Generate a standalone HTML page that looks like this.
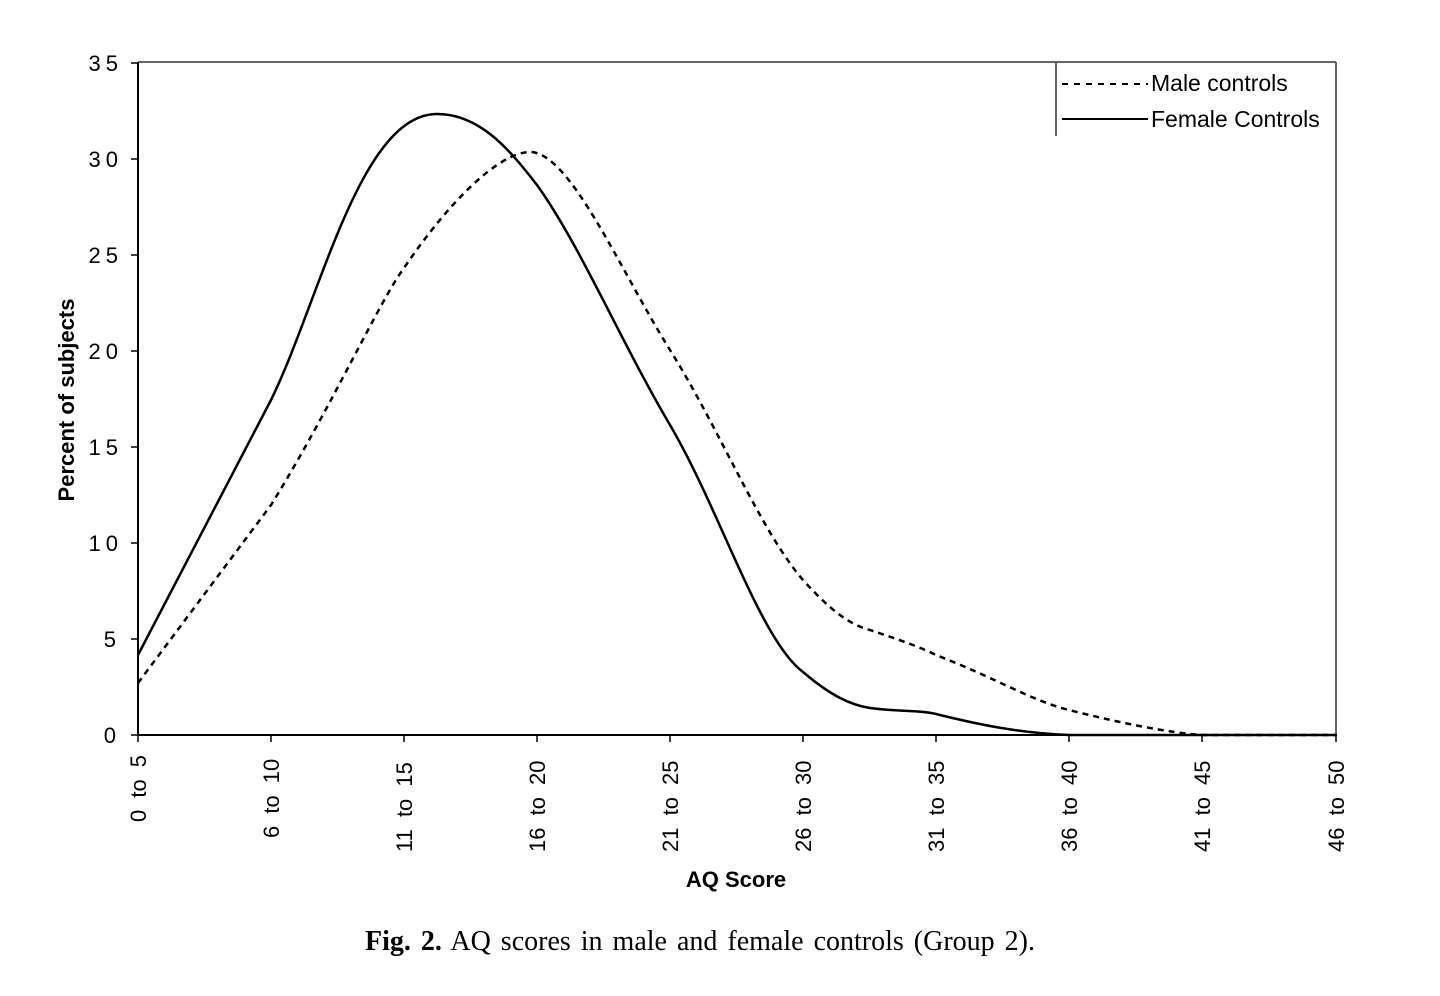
<!DOCTYPE html>
<html><head><style>
body{margin:0;background:#fff;}
svg{display:block}
</style></head><body>
<svg width="1440" height="996" viewBox="0 0 1440 996" xmlns="http://www.w3.org/2000/svg">
<rect width="1440" height="996" fill="#fff"/>
<line x1="138" y1="62" x2="1336" y2="62" stroke="#666" stroke-width="2"/>
<line x1="1336" y1="62" x2="1336" y2="735" stroke="#666" stroke-width="2"/>
<line x1="138" y1="62" x2="138" y2="736" stroke="#000" stroke-width="2"/>
<line x1="137" y1="735" x2="1337" y2="735" stroke="#000" stroke-width="2"/>
<g stroke="#000" stroke-width="1.5">
<line x1="131" y1="63" x2="138" y2="63"/><line x1="131" y1="159" x2="138" y2="159"/>
<line x1="131" y1="255" x2="138" y2="255"/><line x1="131" y1="351" x2="138" y2="351"/>
<line x1="131" y1="447" x2="138" y2="447"/><line x1="131" y1="543" x2="138" y2="543"/>
<line x1="131" y1="639" x2="138" y2="639"/><line x1="131" y1="735" x2="138" y2="735"/>
<line x1="138" y1="735" x2="138" y2="742"/><line x1="271" y1="735" x2="271" y2="742"/>
<line x1="404" y1="735" x2="404" y2="742"/><line x1="537" y1="735" x2="537" y2="742"/>
<line x1="670" y1="735" x2="670" y2="742"/><line x1="803" y1="735" x2="803" y2="742"/>
<line x1="936" y1="735" x2="936" y2="742"/><line x1="1069" y1="735" x2="1069" y2="742"/>
<line x1="1202" y1="735" x2="1202" y2="742"/><line x1="1336" y1="735" x2="1336" y2="742"/>
</g>
<g font-family="Liberation Sans, sans-serif" font-size="22" text-anchor="end" letter-spacing="5">
<text x="123" y="71">35</text><text x="123" y="167">30</text><text x="123" y="263">25</text>
<text x="123" y="359">20</text><text x="123" y="455">15</text><text x="123" y="551">10</text>
<text x="121" y="647">5</text><text x="121" y="743">0</text>
</g>
<g font-family="Liberation Sans, sans-serif" font-size="22" word-spacing="6" text-anchor="start">
<text transform="translate(146,750) rotate(-90)" x="-72">0 to 5</text>
<text transform="translate(279,750) rotate(-90)" x="-88">6 to 10</text>
<text transform="translate(412,750) rotate(-90)" x="-102">11 to 15</text>
<text transform="translate(545,750) rotate(-90)" x="-102">16 to 20</text>
<text transform="translate(678,750) rotate(-90)" x="-102">21 to 25</text>
<text transform="translate(811,750) rotate(-90)" x="-102">26 to 30</text>
<text transform="translate(944,750) rotate(-90)" x="-102">31 to 35</text>
<text transform="translate(1077,750) rotate(-90)" x="-102">36 to 40</text>
<text transform="translate(1210,750) rotate(-90)" x="-102">41 to 45</text>
<text transform="translate(1344,750) rotate(-90)" x="-102">46 to 50</text>
</g>
<text x="736" y="887" font-family="Liberation Sans, sans-serif" font-size="22" font-weight="bold" text-anchor="middle">AQ Score</text>
<text transform="translate(74,400) rotate(-90)" font-family="Liberation Sans, sans-serif" font-size="22" font-weight="bold" text-anchor="middle">Percent of subjects</text>
<text x="700" y="950" font-family="Liberation Serif, serif" font-size="28" text-anchor="middle" word-spacing="3"><tspan font-weight="bold">Fig. 2.</tspan>  AQ scores in male and female controls (Group 2).</text>
<line x1="1056" y1="62" x2="1056" y2="136" stroke="#666" stroke-width="2"/>
<line x1="1062" y1="84" x2="1148" y2="84" stroke="#000" stroke-width="2" stroke-dasharray="6,6"/>
<line x1="1062" y1="119" x2="1148" y2="119" stroke="#000" stroke-width="2"/>
<g font-family="Liberation Sans, sans-serif" font-size="23">
<text x="1151" y="91">Male controls</text>
<text x="1151" y="127">Female Controls</text>
</g>
<path d="M138,655 L271,400 C320,300 360,114 437,114 C480,114 510,150 537,185 C580,245 620,340 670,425 C720,510 760,640 803,672 C830,695 850,705 870,708 C900,712 920,710 936,714 C980,725 1020,733 1069,735 L1336,735" fill="none" stroke="#000" stroke-width="2.5"/>
<path d="M138,683 L271,505 C330,410 380,300 404,268 C450,200 500,152 530,152 C570,152 620,270 670,350 C720,430 760,530 803,580 C830,610 850,625 870,630 C900,640 920,647 936,655 C1000,680 1030,700 1069,710 C1120,723 1170,733 1202,735 L1336,735" fill="none" stroke="#000" stroke-width="2.5" stroke-dasharray="6,5"/>
</svg>
</body></html>
